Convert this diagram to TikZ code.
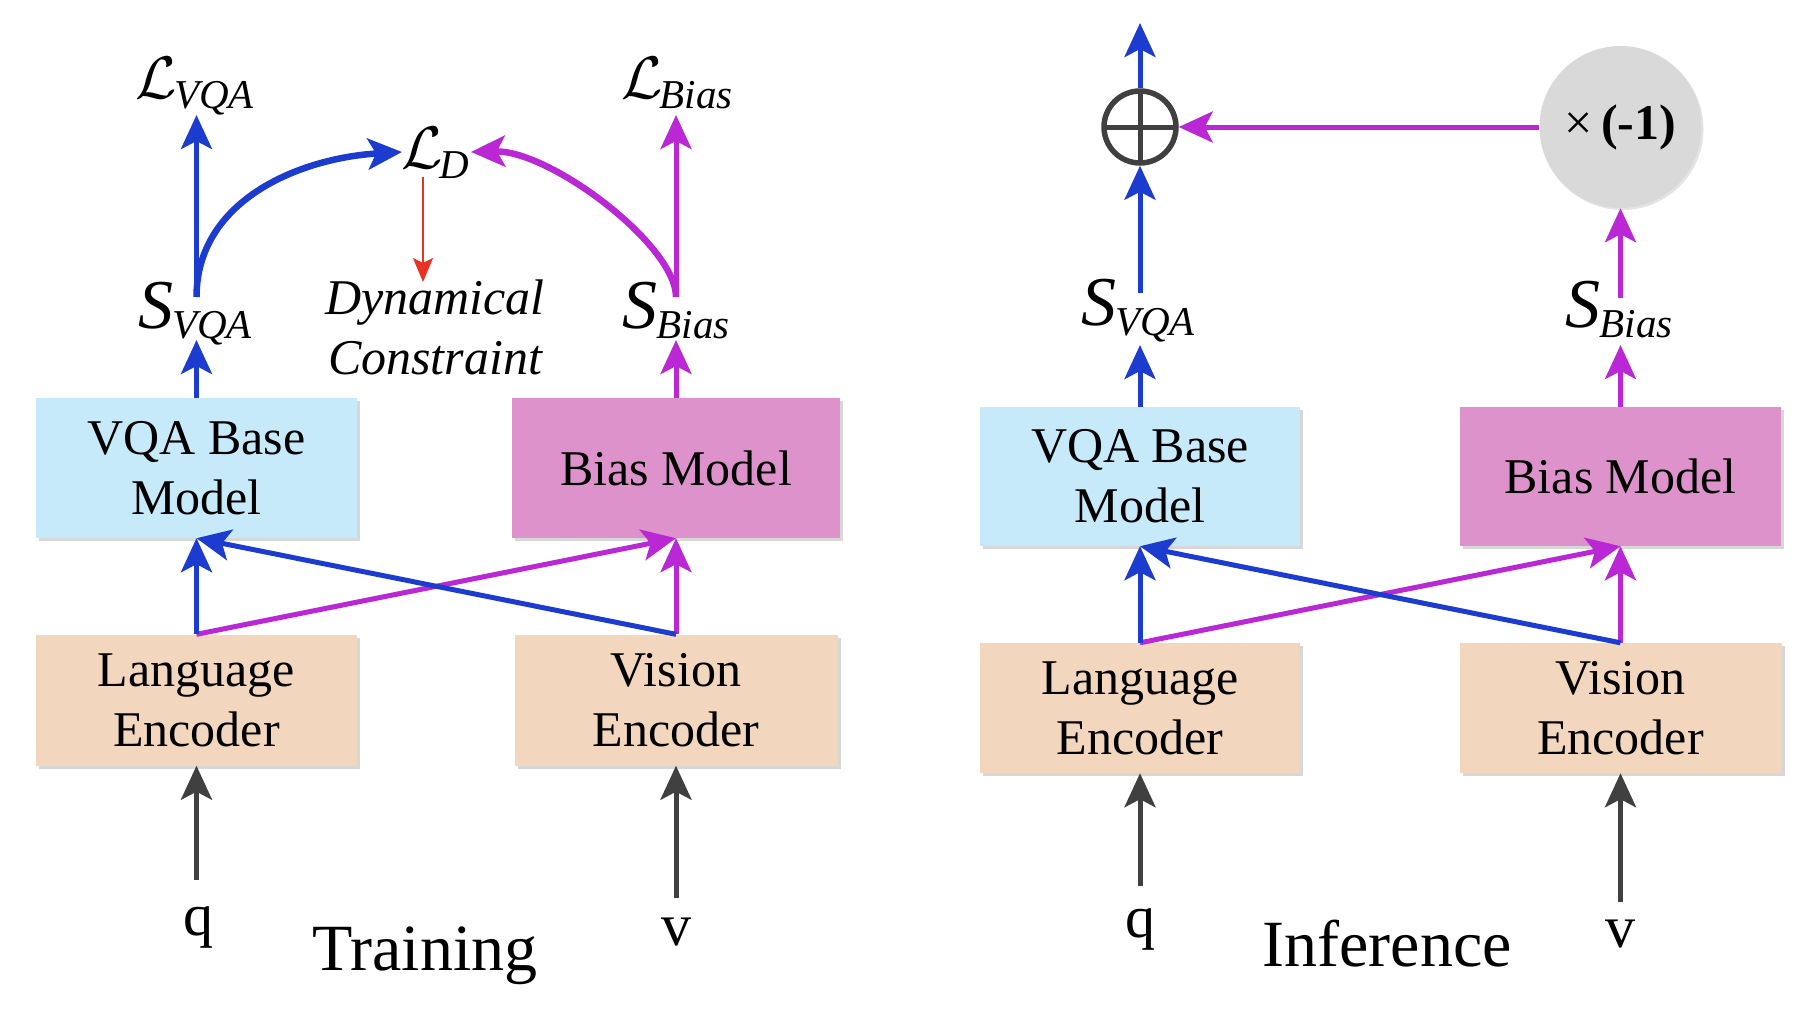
\RequirePackage{fix-cm}
\documentclass[tikz,border=0pt]{standalone}
\usepackage{fontspec}
\setmainfont{Liberation Serif}
\usetikzlibrary{arrows.meta,shadows}
\definecolor{cblue}{RGB}{28,60,208}
\definecolor{cpurp}{RGB}{185,40,212}
\definecolor{cred}{RGB}{232,50,35}
\definecolor{cdgray}{RGB}{64,64,64}
\definecolor{fvqa}{RGB}{198,234,250}
\definecolor{fbias}{RGB}{222,146,204}
\definecolor{fenc}{RGB}{242,214,190}
\definecolor{fcirc}{RGB}{217,217,217}
\newcommand\Lsym[1]{{\fontsize{60}{60}\selectfont$\mathcal{L}$}\kern-3pt\raisebox{-10pt}{\fontsize{41}{41}\selectfont\itshape #1}}
\newcommand\Ssym[1]{{\fontsize{70}{70}\selectfont\itshape S}\kern-1pt\raisebox{-10pt}{\fontsize{41}{41}\selectfont\itshape #1}}
\begin{document}
\begin{tikzpicture}[x=1pt,y=-1pt,
  box/.style={minimum width=321pt,minimum height=140pt,inner sep=0pt,align=center,
    font=\fontsize{50}{60}\selectfont,
    drop shadow={shadow xshift=3pt,shadow yshift=-3pt,fill=black!35,opacity=0.45}},
  encbox/.style={box,fill=fenc,minimum height=131pt},
  lab/.style={anchor=base,inner sep=0pt},
  io/.style={anchor=base,inner sep=0pt,font=\fontsize{60}{60}\selectfont},
  ttl/.style={anchor=base,inner sep=0pt,font=\fontsize{66}{66}\selectfont},
  bigtip/.style={-{Stealth[length=34pt,width=31pt,inset=8pt]}},
  barrow/.style={bigtip,draw=cblue,line width=5pt},
  parrow/.style={bigtip,draw=cpurp,line width=5pt},
  garrow/.style={bigtip,draw=cdgray,line width=5pt},
]
\useasboundingbox (0,0) rectangle (1804,1010);

% ---------------- Training (left) ----------------
\node[box,fill=fvqa] (vqaL) at (196.5,468) {VQA Base\\Model};
\node[box,fill=fbias,minimum width=328pt] (biasL) at (676,468) {Bias Model};
\node[encbox] (langL) at (196.5,700) {Language\\Encoder};
\node[encbox,minimum width=323pt] (visL) at (676,700) {Vision\\Encoder};

\node[io] (qL) at (198,935) {q};
\node[io] (vL) at (676,945) {v};
\node[ttl] (trainL) at (425,970) {Training};

\node[lab] (SvqaL) at (195,328) {\Ssym{VQA}};
\node[lab] (SbiasL) at (676,328) {\Ssym{Bias}};
\node[lab] (LvqaL) at (195,98) {\Lsym{VQA}};
\node[lab] (LbiasL) at (677,98) {\Lsym{Bias}};
\node[lab] (LD) at (435,168) {\Lsym{D}};
\node[inner sep=0pt,align=center,font=\fontsize{50}{60}\selectfont\itshape] (dyn) at (435,327) {Dynamical\\Constraint};

\coordinate (qLt) at (196.5,880);
\coordinate (vLt) at (676,898);
\coordinate (sLvt) at (196.5,297);
\coordinate (sLvb) at (196.5,340);
\coordinate (lLv) at (196.5,115);
\coordinate (sLbt) at (676,297);
\coordinate (sLbb) at (676,340);
\coordinate (lLb) at (676,115);
\coordinate (ldIn1) at (402,152);
\coordinate (ldIn2) at (471,152);
\coordinate (redS) at (423,177);
\coordinate (redE) at (423,282);

\draw[garrow] (qLt) -- (langL.south);
\draw[garrow] (vLt) -- (visL.south);
\draw[parrow] (langL.north) -- (biasL.south);
\draw[parrow] (visL.north) -- (biasL.south);
\draw[barrow] (visL.north) -- (vqaL.south);
\draw[barrow] (langL.north) -- (vqaL.south);
\draw[barrow] (vqaL.north) -- (sLvb);
\draw[parrow] (biasL.north) -- (sLbb);
\draw[barrow] (sLvt) -- (lLv);
\draw[parrow] (sLbt) -- (lLb);
\draw[barrow,line width=6.5pt] (sLvt) .. controls (196.5,200) and (300,158) .. (ldIn1);
\draw[parrow,line width=6.5pt] (sLbt) .. controls (676,245) and (550,150) .. (ldIn2);
\draw[-{Stealth[length=24pt,width=20pt,inset=5pt]},draw=cred,line width=2.5pt] (redS) -- (redE);

% ---------------- Inference (right) ----------------
\node[box,fill=fvqa,minimum width=320pt,minimum height=139pt] (vqaR) at (1140,476.5) {VQA Base\\Model};
\node[box,fill=fbias,minimum height=139pt] (biasR) at (1620.5,476.5) {Bias Model};
\node[encbox,minimum width=320pt,minimum height=130pt] (langR) at (1140,708) {Language\\Encoder};
\node[encbox,minimum width=322pt,minimum height=130pt] (visR) at (1620.5,708) {Vision\\Encoder};

\node[io] (qR) at (1140,937) {q};
\node[io] (vR) at (1620.5,947) {v};
\node[ttl] (infR) at (1387,966) {Inference};

\node[lab] (SvqaR) at (1138,325) {\Ssym{VQA}};
\node[lab] (SbiasR) at (1619,327) {\Ssym{Bias}};

\node[circle,draw=cdgray,line width=5.5pt,minimum size=72pt,inner sep=0pt,
  path picture={\draw[cdgray,line width=5pt] (path picture bounding box.north) -- (path picture bounding box.south)
  (path picture bounding box.west) -- (path picture bounding box.east);}] (oplus) at (1140,127) {};
\node[circle,fill=fcirc,minimum size=162pt,inner sep=0pt,font=\fontsize{50}{50}\selectfont,
  drop shadow={shadow xshift=2pt,shadow yshift=-2pt,fill=black!30,opacity=0.35}] (neg) at (1620.5,127) {×\,\textbf{(-1)}};

\coordinate (qRt) at (1140,886);
\coordinate (vRt) at (1620.5,902);
\coordinate (sRvt) at (1140,293);
\coordinate (sRvb) at (1140,345);
\coordinate (outR) at (1140,23);
\coordinate (sRbt) at (1620.5,298);
\coordinate (sRbb) at (1620.5,345);

\draw[garrow] (qRt) -- (langR.south);
\draw[garrow] (vRt) -- (visR.south);
\draw[parrow] (langR.north) -- (biasR.south);
\draw[parrow] (visR.north) -- (biasR.south);
\draw[barrow] (visR.north) -- (vqaR.south);
\draw[barrow] (langR.north) -- (vqaR.south);
\draw[barrow] (vqaR.north) -- (sRvb);
\draw[parrow] (biasR.north) -- (sRbb);
\draw[barrow] (sRvt) -- (oplus.south);
\draw[barrow] (oplus.north) -- (outR);
\draw[parrow] (sRbt) -- (neg.south);
\draw[parrow] (neg.west) -- (oplus.east);
\end{tikzpicture}
\end{document}
